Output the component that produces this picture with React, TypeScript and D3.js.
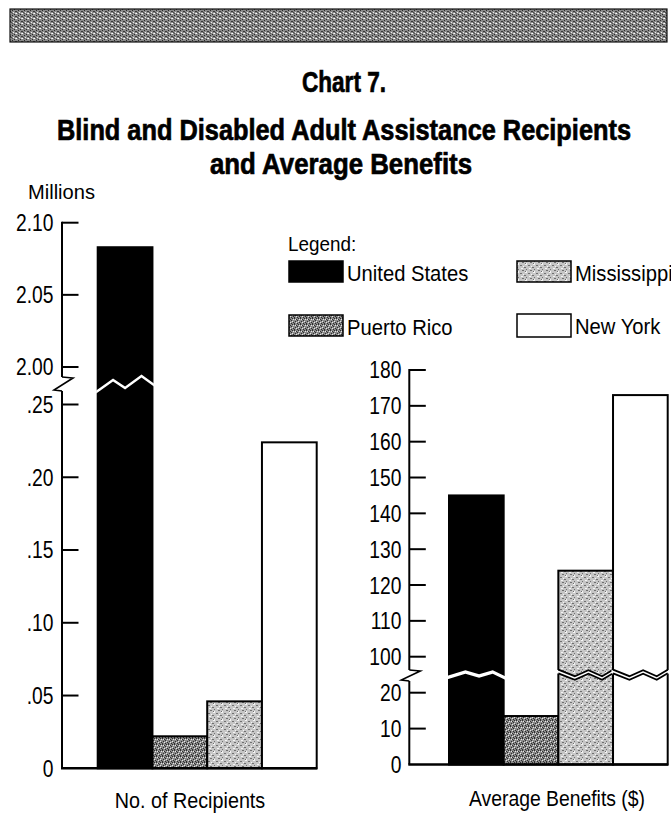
import React from "react";
import * as d3 from "d3";

// ---------- DATA ----------
const categories = ["United States", "Puerto Rico", "Mississippi", "New York"];
const recipientsMillions = [2.083, 0.022, 0.046, 0.224];
const averageBenefits = [145, 13.5, 124, 173];
const recipUpperTicks = [2.0, 2.05, 2.1];
const recipLowerTicks = [0, 0.05, 0.1, 0.15, 0.2, 0.25];
const benefitUpperTicks = [100, 110, 120, 130, 140, 150, 160, 170, 180];
const benefitLowerTicks = [0, 10, 20];
const titleLines = ["Chart 7.", "Blind and Disabled Adult Assistance Recipients", "and Average Benefits"];
const axisTitles = ["No. of Recipients", "Average Benefits ($)"];

const FONT = '"Liberation Sans", Arimo, Arial, sans-serif';
const FILLS: Record<string, string> = {
  "United States": "#000",
  "Puerto Rico": "url(#prPat)",
  "Mississippi": "url(#msPat)",
  "New York": "#fff",
};

const fmtRecip = (v: number) => {
  if (v === 0) return "0";
  const s = d3.format(".2f")(v);
  return v < 1 ? s.replace(/^0/, "") : s;
};
const fmtBen = d3.format("d");

function T(props: {
  x: number; y: number; size: number; sx?: number; anchor?: string; weight?: string;
  dy?: string; textLength?: number; heavy?: boolean; children: React.ReactNode;
}) {
  const { x, y, size, sx = 1, anchor = "start", weight = "normal", dy, textLength, heavy, children } = props;
  return (
    <text transform={`translate(${x},${y}) scale(${sx},1)`} textAnchor={anchor} fontSize={size}
      fontWeight={weight} fontFamily={FONT} fill="#000" dy={dy}
      stroke={heavy ? "#000" : undefined} strokeWidth={heavy ? 0.7 : undefined}
      textLength={textLength} lengthAdjust={textLength ? "spacingAndGlyphs" : undefined}>
      {children}
    </text>
  );
}

type Panel = {
  values: number[];
  upperTicks: number[];
  lowerTicks: number[];
  fmt: (v: number) => string;
  axisX: number;
  baseline: number;
  barRange: [number, number];
  lower: d3.ScaleLinear<number, number>;
  upper: d3.ScaleLinear<number, number>;
  breakValue: number;
  breakY: number;
  upperEnd: number;
  lowerStart: number;
  labelX: number;
  zigFr: number[];
  zigDy: (i: number) => number[];
  gap: number;
  title: string;
  titleX: number;
  titleY: number;
  titleSx: number;
};

const leftPanel: Panel = {
  values: recipientsMillions,
  upperTicks: recipUpperTicks,
  lowerTicks: recipLowerTicks,
  fmt: fmtRecip,
  axisX: 62,
  baseline: 768.3,
  barRange: [97.7, 316.7],
  lower: d3.scaleLinear().domain([0, 0.25]).range([768.3, 404.5]),
  upper: d3.scaleLinear().domain([2.0, 2.1]).range([367, 222.7]),
  breakValue: 0.25,
  breakY: 385,
  upperEnd: 377,
  lowerStart: 391,
  labelX: 53.5,
  zigFr: [0, 0.28, 0.5, 0.8, 1],
  zigDy: () => [7, -5, 3, -9, 0],
  gap: 3.2,
  title: axisTitles[0],
  titleX: 190,
  titleY: 808,
  titleSx: 0.92,
};

const rightPanel: Panel = {
  values: averageBenefits,
  upperTicks: benefitUpperTicks,
  lowerTicks: benefitLowerTicks,
  fmt: fmtBen,
  axisX: 409.3,
  baseline: 764.5,
  barRange: [449, 667.7],
  lower: d3.scaleLinear().domain([0, 20]).range([764.5, 692.7]),
  upper: d3.scaleLinear().domain([100, 180]).range([656.7, 370]),
  breakValue: 25,
  breakY: 675,
  upperEnd: 670,
  lowerStart: 681,
  labelX: 401.5,
  zigFr: [0, 0.3, 0.55, 0.8, 1],
  zigDy: (i: number) => (i === 0 ? [2.5, -3, 1, -3, 3] : [-3.5, 3, -3, 3, -3.5]),
  gap: 3.6,
  title: axisTitles[1],
  titleX: 557,
  titleY: 806,
  titleSx: 0.9,
};

function BarPanel({ p }: { p: Panel }) {
  const band = d3.scaleBand<string>().domain(categories).range(p.barRange).paddingInner(0).paddingOuter(0);
  const w = band.bandwidth();
  const ax = p.axisX;
  const line = d3.line();
  return (
    <g>
      {categories.map((c, i) => {
        const v = p.values[i];
        const top = v > p.breakValue ? p.upper(v) : p.lower(v);
        const x0 = band(c)!;
        return (
          <rect key={c} x={x0} y={top} width={w} height={p.baseline - top}
            fill={FILLS[c]} stroke="#000" strokeWidth={2} />
        );
      })}
      {categories.map((c, i) => {
        const v = p.values[i];
        if (v <= p.breakValue) return null;
        const x0 = band(c)!;
        const dy = p.zigDy(i);
        const pts: [number, number][] = p.zigFr.map((f, k) => [x0 + f * w, p.breakY + dy[k]]);
        const topPts: [number, number][] = pts.map(([x, y]) => [x, y - p.gap / 2]);
        const botPts: [number, number][] = pts.map(([x, y]) => [x, y + p.gap / 2]);
        const ext = (arr: [number, number][]) =>
          arr.map(([x, y], k) => [k === 0 ? x - 1.5 : k === arr.length - 1 ? x + 1.5 : x, y] as [number, number]);
        const poly = [...ext(topPts), ...ext(botPts).reverse()];
        const isBlack = FILLS[c] === "#000";
        return (
          <g key={"b" + c}>
            <polygon points={poly.map((d) => d.join(",")).join(" ")} fill="#fff" />
            {!isBlack && (
              <>
                <path d={line(topPts)!} fill="none" stroke="#000" strokeWidth={1.8} />
                <path d={line(botPts)!} fill="none" stroke="#000" strokeWidth={1.8} />
              </>
            )}
          </g>
        );
      })}
      <line x1={ax} x2={ax} y1={p.upper(p.upper.domain()[1]) - 1} y2={p.upperEnd} stroke="#000" strokeWidth={2} />
      <line x1={ax} x2={ax} y1={p.lowerStart} y2={p.baseline} stroke="#000" strokeWidth={2} />
      <polyline
        points={`${ax},${p.upperEnd} ${ax + 11},${p.upperEnd + 1} ${ax - 8},${p.lowerStart - 1} ${ax},${p.lowerStart}`}
        fill="none" stroke="#000" strokeWidth={1.6} strokeLinejoin="miter" />
      <line x1={ax - 1} x2={p.barRange[1] + 0.5} y1={p.baseline} y2={p.baseline} stroke="#000" strokeWidth={2.4} />
      {[...p.upperTicks.map((t) => ({ t, y: p.upper(t) })), ...p.lowerTicks.map((t) => ({ t, y: p.lower(t) }))].map(
        ({ t, y }, k) => (
          <g key={"t" + k}>
            {t !== 0 && <line x1={ax} x2={ax + 16.5} y1={y} y2={y} stroke="#000" strokeWidth={2} />}
            <T x={p.labelX} y={y} dy="0.36em" anchor="end" size={23.5} sx={0.82}>{p.fmt(t)}</T>
          </g>
        )
      )}
      <T x={p.titleX} y={p.titleY} anchor="middle" size={21.5} sx={p.titleSx}>{p.title}</T>
    </g>
  );
}

const legendItems = [
  { name: categories[0], x: 289, y: 261 },
  { name: categories[2], x: 517, y: 261 },
  { name: categories[1], x: 289, y: 315 },
  { name: categories[3], x: 517, y: 314 },
];

export default function App() {
  return (
    <svg width={671} height={813} style={{ position: "absolute", left: 0, top: 0, background: "#fff" }}>
      <defs>
        <pattern id="bannerPat" width={6} height={5} patternUnits="userSpaceOnUse">
          <rect width={6} height={5} fill="#8a8a8a" />
          <rect x={0} y={0} width={1} height={1} fill="#2a2a2a" />
          <rect x={3} y={1} width={2} height={1} fill="#3a3a3a" />
          <rect x={1} y={2} width={1} height={1} fill="#eee" />
          <rect x={4} y={3} width={1} height={1} fill="#fff" />
          <rect x={2} y={4} width={1} height={1} fill="#2a2a2a" />
          <rect x={5} y={2} width={1} height={1} fill="#4a4a4a" />
          <rect x={0} y={3} width={1} height={1} fill="#555" />
          <rect x={3} y={3} width={1} height={1} fill="#ddd" />
        </pattern>
        <pattern id="prPat" width={6} height={6} patternUnits="userSpaceOnUse">
          <rect width={6} height={6} fill="#8a8a8a" />
          {[[0, 0], [2, 1], [4, 0], [1, 3], [3, 2], [5, 4], [0, 5], [3, 5]].map(([x, y], k) => (
            <rect key={"d" + k} x={x} y={y} width={1} height={1} fill="#2e2e2e" />
          ))}
          {[[1, 1], [4, 3], [2, 4], [5, 1]].map(([x, y], k) => (
            <rect key={"l" + k} x={x} y={y} width={1} height={1} fill="#e6e6e6" />
          ))}
        </pattern>
        <pattern id="msPat" width={8} height={8} patternUnits="userSpaceOnUse">
          <rect width={8} height={8} fill="#c6c6c6" />
          {[[0, 1, 2], [4, 3, 2], [2, 6, 2], [6, 5, 1], [5, 7, 1]].map(([x, y, w], k) => (
            <rect key={"d" + k} x={x} y={y} width={w} height={1} fill="#707070" />
          ))}
          {[[1, 4, 2], [5, 0, 2], [6, 7, 1], [3, 2, 1]].map(([x, y, w], k) => (
            <rect key={"l" + k} x={x} y={y} width={w} height={1} fill="#f4f4f4" />
          ))}
        </pattern>
      </defs>

      <rect x={10} y={9} width={657} height={33} fill="url(#bannerPat)" stroke="#111" strokeWidth={1.2} />

      <T x={344} y={92} anchor="middle" size={30} weight="bold" textLength={84} heavy>{titleLines[0]}</T>
      <T x={344} y={140} anchor="middle" size={30} weight="bold" textLength={574} heavy>{titleLines[1]}</T>
      <T x={341} y={174} anchor="middle" size={30} weight="bold" textLength={262} heavy>{titleLines[2]}</T>

      <T x={28} y={199} size={20.5} sx={0.98}>Millions</T>

      <BarPanel p={leftPanel} />
      <BarPanel p={rightPanel} />

      <T x={288} y={251} size={21} sx={0.9}>Legend:</T>
      {legendItems.map((it) => (
        <g key={it.name}>
          <rect x={it.x} y={it.y} width={54} height={it.name === "New York" ? 23 : 21}
            fill={FILLS[it.name]} stroke="#000" strokeWidth={1.5} />
          <T x={it.x + 58} y={it.y + 20} size={21.5} sx={0.94}>{it.name}</T>
        </g>
      ))}
    </svg>
  );
}
